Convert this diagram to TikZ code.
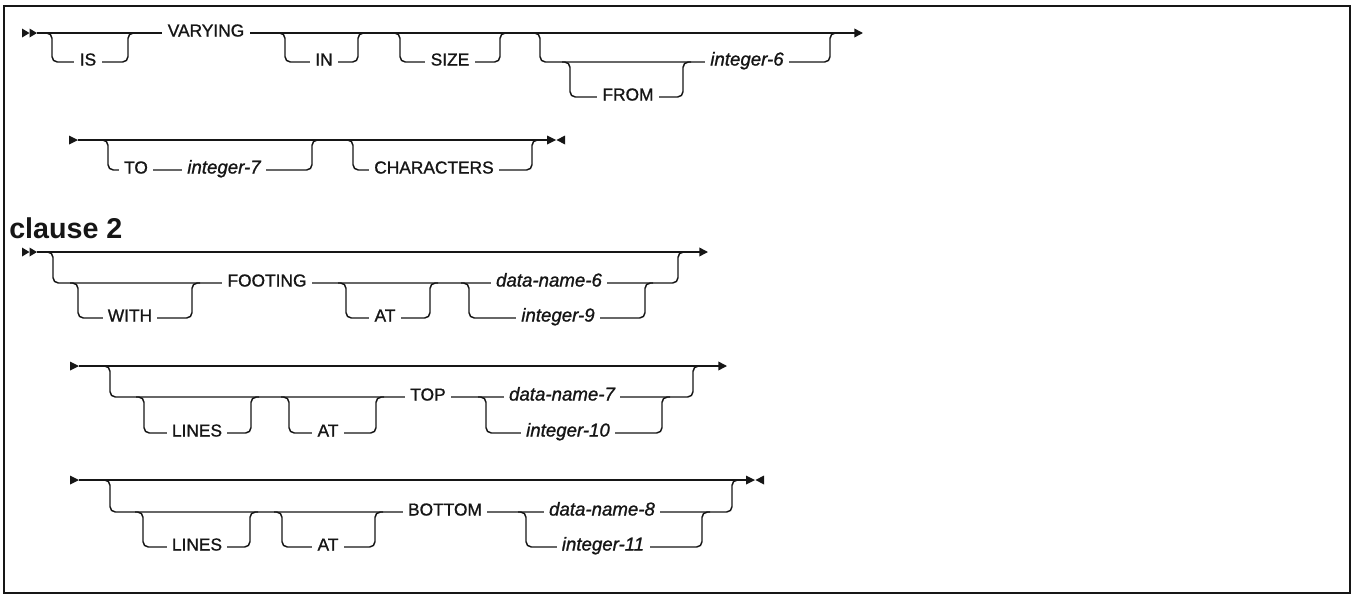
\documentclass[tikz,border=0pt]{standalone}
\usepackage{fontspec}
\setmainfont{Liberation Sans}
\newfontfamily\railfont{Liberation Sans}[FakeBold=1.1]
\usetikzlibrary{arrows.meta}

\definecolor{railgrey}{RGB}{22,22,22}

% optional branch: #1 line y, #2 lower y, #3 left x, #4 right x
\newcommand{\railbranch}[4]{%
  \draw[rail, rounded corners=4pt] (#3-8,#1) -- (#3,#1) -- (#3,#2) -- (#4,#2) -- (#4,#1) -- (#4+8,#1);}
% start of a statement / of a continued line
\newcommand{\railbegin}[2]{%
  \fill[railgrey] (#1,#2-4.5) -- (#1+7.5,#2) -- (#1,#2+4.5) -- cycle;
  \fill[railgrey] (#1+7.5,#2-4.5) -- (#1+15,#2) -- (#1+7.5,#2+4.5) -- cycle;}
\newcommand{\railmore}[2]{%
  \fill[railgrey] (#1,#2-4.5) -- (#1+9,#2) -- (#1,#2+4.5) -- cycle;}
% end of a statement
\newcommand{\railstop}[2]{%
  \fill[railgrey] (#1,#2-4.5) -- (#1+9,#2) -- (#1,#2+4.5) -- cycle;
  \fill[railgrey] (#1+18,#2-4.5) -- (#1+9.5,#2) -- (#1+18,#2+4.5) -- cycle;}

\begin{document}
\begin{tikzpicture}[x=0.75pt, y=-0.75pt,
    rail/.style={line width=1.1pt, draw=railgrey},
    kw/.style={font=\railfont\fontsize{13}{15}\selectfont, text=railgrey, fill=white,
               inner xsep=4pt, inner ysep=1pt, anchor=mid},
    var/.style={kw, font=\railfont\fontsize{14}{16}\selectfont\itshape},
    railtip/.style={rail, -{Triangle[length=6.5pt, width=6.5pt]}}]

\useasboundingbox (0,0) rectangle (1355,596);
\draw[line width=2.2pt, railgrey] (4,6) rectangle (1350,593);

% Row 1: IS VARYING IN SIZE FROM integer-6
\coordinate (r1s) at (37,33);
\coordinate (r1e) at (863,33);
\railbegin{22}{33}
\draw[railtip] (r1s) -- (r1e);
\railbranch{33}{62}{52}{128}
\railbranch{33}{62}{285}{358}
\railbranch{33}{62}{400}{500}
\railbranch{33}{62}{540}{830}
\railbranch{62}{97}{570}{683}
\node[kw] (is) at (88,62) {IS};
\node[kw] (varying) at (206,33) {VARYING};
\node[kw] (in) at (324,62) {IN};
\node[kw] (size) at (450,62) {SIZE};
\node[kw] (from) at (628,97) {FROM};
\node[var] (int6) at (747,62) {integer-6};

% Row 2: TO integer-7 CHARACTERS
\coordinate (r2s) at (78,140);
\coordinate (r2e) at (548,140);
\railmore{69}{140}
\draw[rail] (r2s) -- (r2e);
\railbranch{140}{170}{108}{312}
\railbranch{140}{170}{353}{532}
\node[kw] (to) at (136,170) {TO};
\node[var] (int7) at (224,170) {integer-7};
\node[kw] (chars) at (434,170) {CHARACTERS};
\railstop{547}{140}

% Heading
\node[font=\fontsize{21.5}{26}\selectfont\bfseries, text=railgrey, anchor=base west,
      inner sep=0pt] (heading) at (9,238) {clause 2};

% Row 3: WITH FOOTING AT
\coordinate (r3s) at (37,252);
\coordinate (r3e) at (708,252);
\railbegin{22}{252}
\draw[railtip] (r3s) -- (r3e);
\railbranch{252}{283}{53}{678}
\railbranch{283}{318}{78}{192}
\railbranch{283}{318}{346}{430}
\railbranch{283}{318}{469}{645}
\node[kw] (with) at (130,318) {WITH};
\node[kw] (footing) at (267,283) {FOOTING};
\node[kw] (at1) at (385,318) {AT};
\node[var] (dn6) at (549,283) {data-name-6};
\node[var] (int9) at (558,318) {integer-9};

% Row 4: LINES AT TOP
\coordinate (r4s) at (79,366);
\coordinate (r4e) at (727,366);
\railmore{70}{366}
\draw[railtip] (r4s) -- (r4e);
\railbranch{366}{397}{110}{693}
\railbranch{397}{433}{144}{251}
\railbranch{397}{433}{289}{376}
\railbranch{397}{433}{486}{662}
\node[kw] (lines1) at (197,433) {LINES};
\node[kw] (at2) at (328,433) {AT};
\node[kw] (top) at (428,397) {TOP};
\node[var] (dn7) at (562,397) {data-name-7};
\node[var] (int10) at (568,433) {integer-10};

% Row 5: LINES AT BOTTOM
\coordinate (r5s) at (79,480);
\coordinate (r5e) at (747,480);
\railmore{70}{480}
\draw[rail] (r5s) -- (r5e);
\railbranch{480}{512}{110}{732}
\railbranch{512}{547}{143}{250}
\railbranch{512}{547}{282}{375}
\railbranch{512}{547}{526}{702}
\node[kw] (lines2) at (197,547) {LINES};
\node[kw] (at3) at (328,547) {AT};
\node[kw] (bottom) at (445,512) {BOTTOM};
\node[var] (dn8) at (602,512) {data-name-8};
\node[var] (int11) at (603,547) {integer-11};
\railstop{746}{480}
\end{tikzpicture}
\end{document}
